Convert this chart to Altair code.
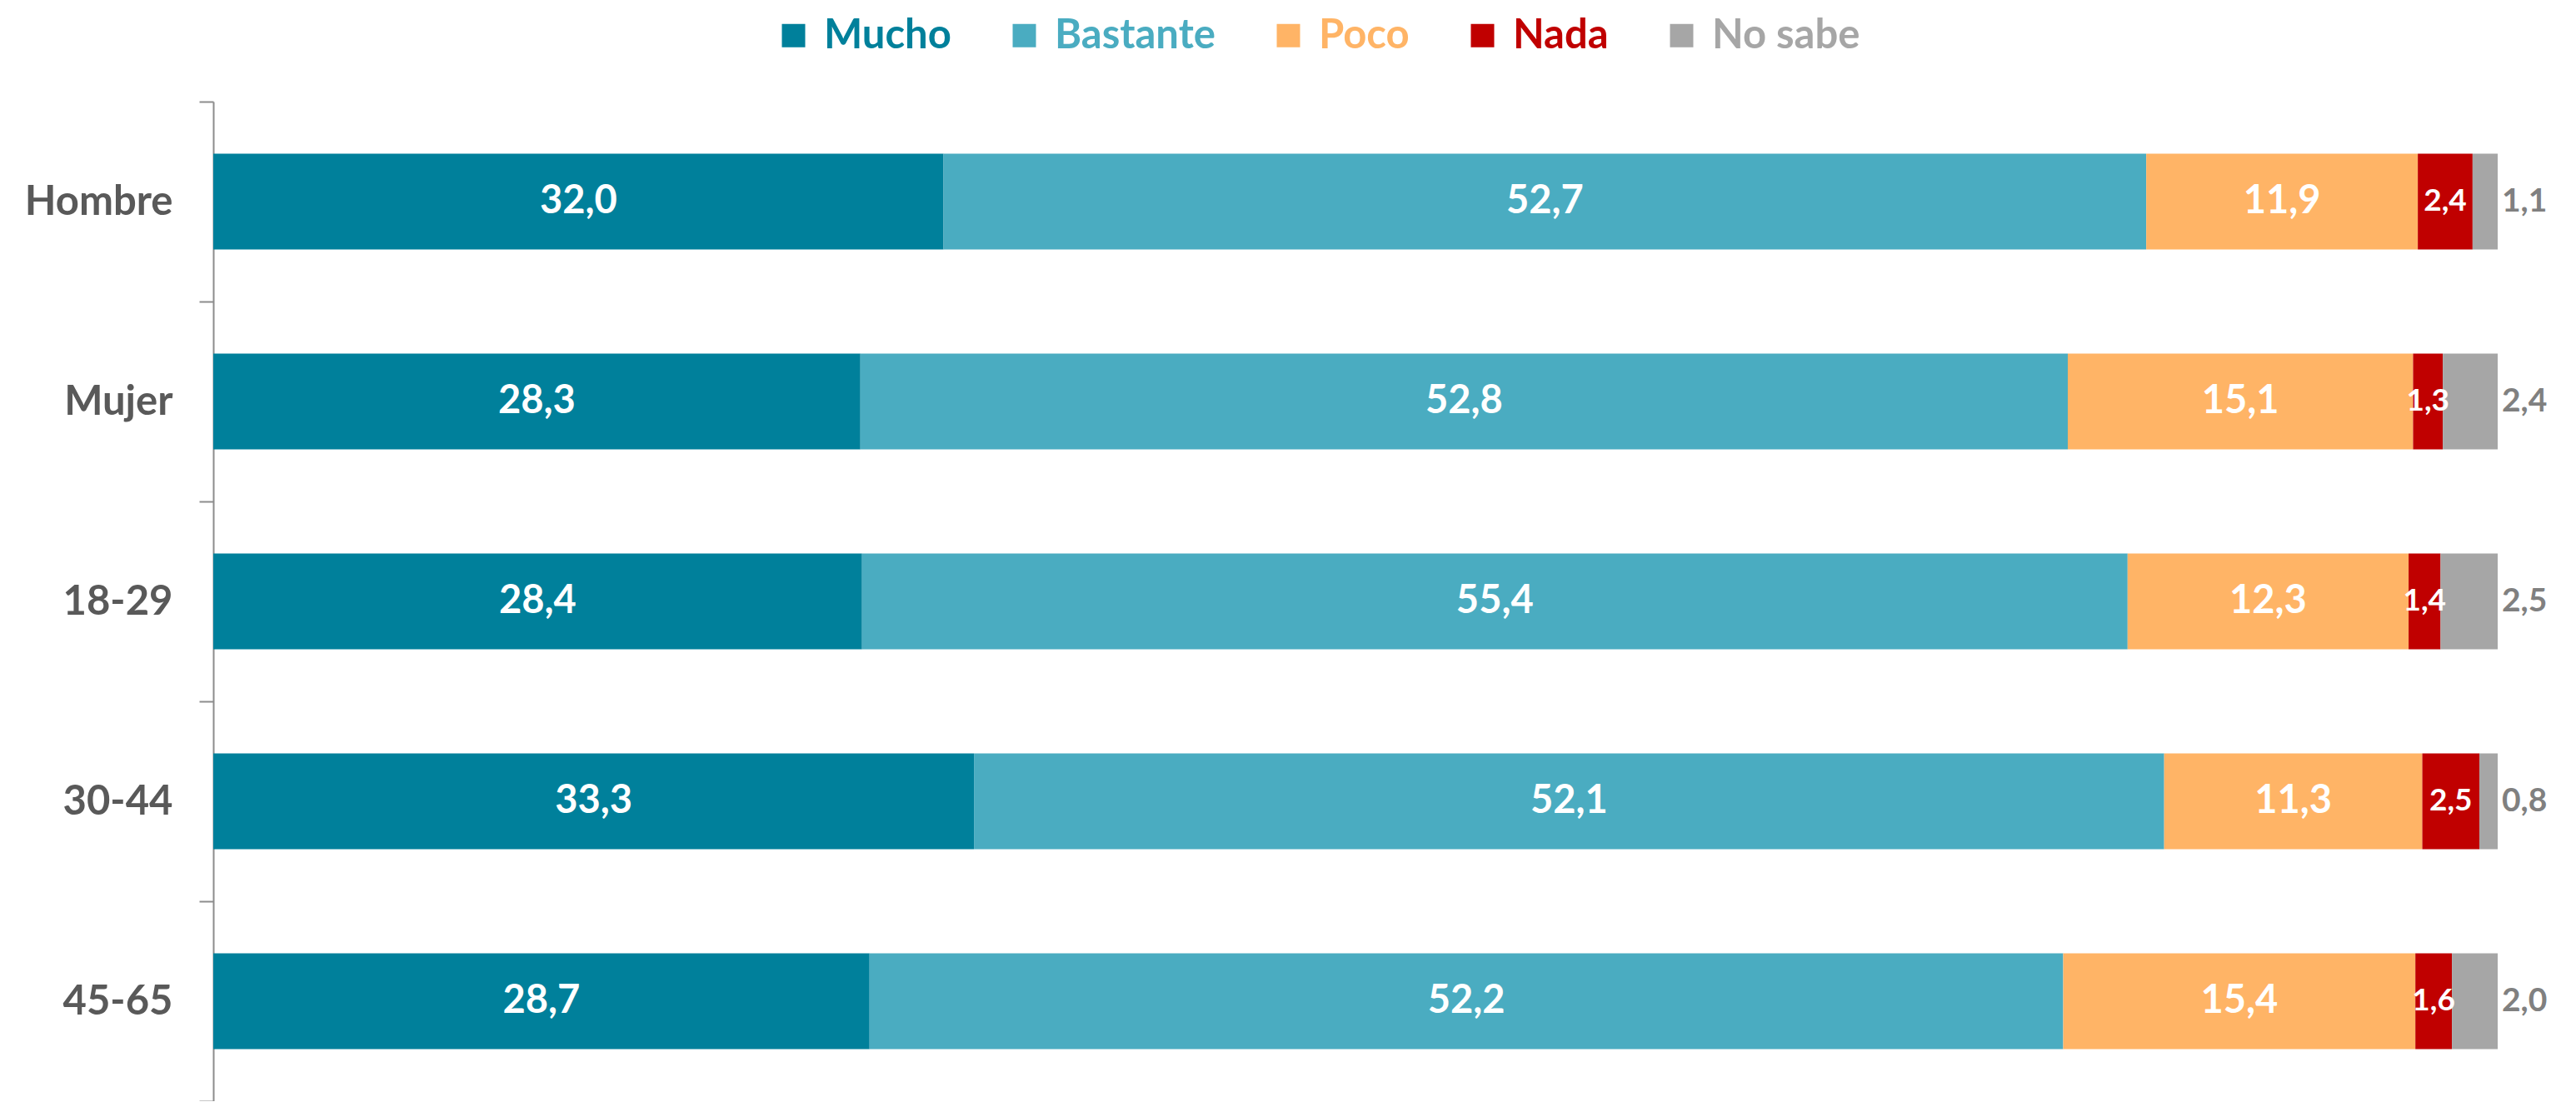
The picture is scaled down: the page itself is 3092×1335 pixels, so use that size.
import altair as alt
import pandas as pd

grupos = ["Hombre", "Mujer", "18-29", "30-44", "45-65"]
categorias = ["Mucho", "Bastante", "Poco", "Nada", "No sabe"]
colores = ["#00809B", "#4AACC1", "#FFB466", "#C00000", "#A6A6A6"]

mucho = [32.0, 28.3, 28.4, 33.3, 28.7]
bastante = [52.7, 52.8, 55.4, 52.1, 52.2]
poco = [11.9, 15.1, 12.3, 11.3, 15.4]
nada = [2.4, 1.3, 1.4, 2.5, 1.6]
no_sabe = [1.1, 2.4, 2.5, 0.8, 2.0]

series = [mucho, bastante, poco, nada, no_sabe]
rows = []
for ci, (cat, vals) in enumerate(zip(categorias, series)):
    for g, v in zip(grupos, vals):
        rows.append({"grupo": g, "cat": cat, "orden": ci, "value": v})
df = pd.DataFrame(rows)

FONT = "Lato"

base = alt.Chart(df).transform_stack(
    stack="value", groupby=["grupo"], as_=["v0", "v1"],
    sort=[alt.SortField("orden", order="ascending")], offset="normalize"
).transform_calculate(
    mid="(datum.v0 + datum.v1) / 2",
    label="replace(format(datum.value, '.1f'), '.', ',')"
)

yscale = alt.Scale(paddingInner=0, paddingOuter=0)
yenc = alt.Y(
    "grupo:N", sort=grupos, title=None,
    scale=yscale,
    axis=alt.Axis(
        tickBand="extent", domainColor="#8C8C8C", domainWidth=2,
        tickColor="#8C8C8C", tickWidth=2, tickSize=17,
        labelFont=FONT, labelFontSize=49, labelFontWeight="bold",
        labelColor="#595959", labelPadding=32,
    ),
)
xscale = alt.Scale(domain=[0, 1], nice=False, zero=True)

bars = base.mark_bar(stroke=None, height=115).encode(
    y=yenc,
    x=alt.X("v0:Q", scale=xscale, axis=None),
    x2="v1:Q",
    color=alt.Color(
        "cat:N",
        scale=alt.Scale(domain=categorias, range=colores),
        sort=categorias,
        legend=alt.Legend(
            title=None, orient="none", direction="horizontal",
            legendX=672, legendY=-104,
            symbolType="square", symbolSize=784, symbolStrokeWidth=0,
            labelFont=FONT, labelFontSize=49, labelFontWeight="bold",
            labelColor=alt.ExprRef("scale('color', datum.value)"),
            labelOffset=12, columnPadding=63, labelLimit=400,
        ),
    ),
)

labels_in = base.transform_filter("datum.cat != 'No sabe'").mark_text(
    color="white", font=FONT, fontWeight="bold", align="center", baseline="middle"
).encode(
    y=alt.Y("grupo:N", sort=grupos),
    x=alt.X("mid:Q", scale=xscale),
    text="label:N",
    size=alt.condition("datum.cat == 'Nada'", alt.value(37), alt.value(47)),
)

labels_out = base.transform_filter("datum.cat == 'No sabe'").mark_text(
    color="#808080", font=FONT, fontWeight="bold", align="left", baseline="middle",
    fontSize=39, dx=5
).encode(
    y=alt.Y("grupo:N", sort=grupos),
    x=alt.X("v1:Q", scale=xscale),
    text="label:N",
)

chart = alt.layer(bars, labels_in, labels_out).properties(
    width=2742, height=1200,
    padding={"left": 248, "top": 114, "right": 80, "bottom": 0},
    autosize=alt.AutoSizeParams(type="none"),
).configure_view(stroke=None)

chart.save("out.html", embed_options={"renderer": "svg", "actions": False})
